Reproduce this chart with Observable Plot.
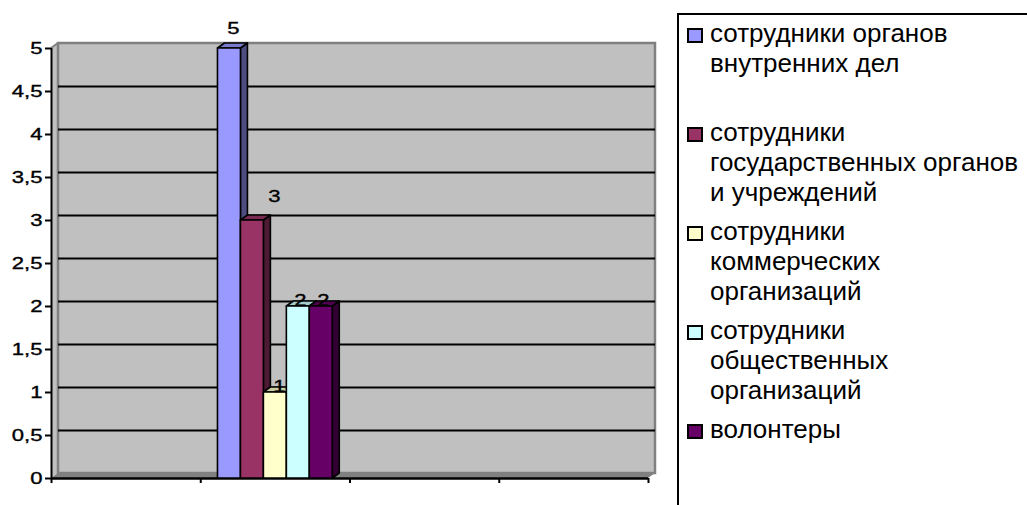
<!DOCTYPE html>
<html>
<head>
<meta charset="utf-8">
<script src="https://cdn.jsdelivr.net/npm/d3@7"></script>
<script src="https://cdn.jsdelivr.net/npm/@observablehq/plot@0.6"></script>
<style>
  html, body { margin: 0; padding: 0; background: #fff; width: 1027px; height: 505px; overflow: hidden; }
  #wrap { position: relative; width: 1027px; height: 505px; }
  #chart { position: absolute; left: 0; top: 0; }
  #chart text { font-family: Arial, "Liberation Sans", sans-serif; font-size: 17px; stroke: #000; stroke-width: 0.35px; }
  #legend {
    position: absolute; left: 677px; top: 13px; width: 420px; height: 560px;
    border-left: 2px solid #000; border-top: 2px solid #000;
    font-family: Arial, "Liberation Sans", sans-serif; font-size: 26px; color: #000;
    padding-top: 3px; box-sizing: border-box;
  }
  .item { position: relative; height: 99px; }
  .sw { position: absolute; left: 8px; top: 10px; width: 16px; height: 15px; border: 2px solid #000; box-sizing: border-box; }
  .lab { margin-left: 31px; line-height: 30px; white-space: nowrap; }
</style>
</head>
<body>
<div id="wrap">
  <div id="chart"></div>
  <div id="legend"></div>
</div>
<script>
// ---- data ----
const categories = ["", "", "", ""];           // four unlabeled category slots
const seriesNames = [
  "сотрудники органов\nвнутренних дел",
  "сотрудники\nгосударственных органов\nи учреждений",
  "сотрудники\nкоммерческих\nорганизаций",
  "сотрудники\nобщественных\nорганизаций",
  "волонтеры"
];
const seriesValues = [
  [null, 5, null, null],
  [null, 3, null, null],
  [null, 1, null, null],
  [null, 2, null, null],
  [null, 2, null, null]
];
const yTicks = [0, 0.5, 1, 1.5, 2, 2.5, 3, 3.5, 4, 4.5, 5];
const frontColors = ["#9999FF", "#993366", "#FFFFCC", "#CCFFFF", "#660066"];

// ---- style ----
const DX = 7, DY = 5;          // 3D depth offset (px)
const gapWidth = 1.5;          // Excel gap width 150%
const labelNudge = [[4, -15], [22, -19], [4, -1], [2, -1], [2, -1]];
const FONT = "Arial, 'Liberation Sans', sans-serif";
const TEXT_STRETCH = 1.3;      // reference text is horizontally stretched
const FS = 17;

function shade(c, k) { const r = d3.rgb(c); return d3.rgb(r.r * k, r.g * k, r.b * k).formatHex(); }

// build bar table
const nS = seriesNames.length;
const w = 1 / (nS + gapWidth);
const bars = [];
seriesValues.forEach((vals, s) => vals.forEach((v, c) => {
  if (v == null) return;
  const x1 = c + (gapWidth / 2 + s) * w;
  bars.push({series: s, cat: c, x1, x2: x1 + w, xm: x1 + w / 2, value: v});
}));

const walls = (index, scales) => {
  const x = scales.x, y = scales.y;
  const xL = x(0), xR = x(categories.length), y0 = y(0), yT = y(d3.max(yTicks));
  const g = d3.create("svg:g");
  g.append("path").attr("d", `M${xL},${y0}L${xL},${yT}L${xL+DX},${yT-DY}L${xL+DX},${y0-DY}Z`).attr("fill", "#c0c0c0");
  g.append("rect").attr("x", xL + DX).attr("y", yT - DY).attr("width", xR - xL).attr("height", y0 - yT)
    .attr("fill", "#c0c0c0").attr("stroke", "#808080").attr("stroke-width", 2.5);
  g.append("path").attr("d", `M${xL},${y0}L${xL+DX},${y0-DY}L${xR+DX},${y0-DY}L${xR},${y0}Z`).attr("fill", "#808080");
  g.append("path").attr("d", `M${xL},${yT}L${xL+DX},${yT-DY}`).attr("stroke", "#808080").attr("stroke-width", 2).attr("fill", "none");
  return g.node();
};

const bars3d = (index, scales) => {
  const x = scales.x, y = scales.y;
  const g = d3.create("svg:g").attr("stroke", "#000").attr("stroke-width", 1.6).attr("stroke-linejoin", "round");
  for (const b of bars) {
    const xa = x(b.x1), xb = x(b.x2), yt = y(b.value), y0 = y(0);
    const col = frontColors[b.series];
    g.append("path").attr("d", `M${xb},${yt}L${xb+DX},${yt-DY}L${xb+DX},${y0-DY}L${xb},${y0}Z`).attr("fill", shade(col, 0.5));
    g.append("path").attr("d", `M${xa},${yt}L${xa+DX},${yt-DY}L${xb+DX},${yt-DY}L${xb},${yt}Z`).attr("fill", shade(col, 0.8));
    g.append("rect").attr("x", xa).attr("y", yt).attr("width", xb - xa).attr("height", y0 - yt).attr("fill", col);
  }
  return g.node();
};

const fmt = d => String(d).replace(".", ",");

const labelMarks = seriesNames.map((_, s) => Plot.text(bars.filter(b => b.series === s), {
  x: "xm", y: "value", text: d => fmt(d.value), dx: labelNudge[s][0], dy: labelNudge[s][1],
  lineAnchor: "bottom", fontSize: FS, fill: "#000"
}));

const chart = Plot.plot({
  width: 670, height: 505,
  marginLeft: 51, marginRight: 22, marginTop: 48, marginBottom: 27,
  style: {fontFamily: FONT, fontSize: FS + "px", background: "transparent", overflow: "visible"},
  x: {type: "linear", domain: [0, categories.length], axis: null, label: null},
  y: {domain: [0, d3.max(yTicks)], axis: null, label: null},
  marks: [
    walls,
    Plot.ruleY(yTicks.filter(t => t > 0 && t < d3.max(yTicks)), {dx: DX, dy: -DY, stroke: "#000", strokeWidth: 2}),
    Plot.axisY(yTicks, {tickFormat: fmt, tickSize: 6, tickPadding: 3, strokeWidth: 2, fontSize: FS, fill: "#000", stroke: "#000", label: null}),
    Plot.axisX(d3.range(categories.length + 1), {tickFormat: () => "", tickSize: 5, strokeWidth: 2, stroke: "#000", label: null}),
    Plot.ruleX([0], {stroke: "#000", strokeWidth: 2}),
    Plot.ruleY([0], {stroke: "#000", strokeWidth: 2.5}),
    bars3d,
    ...labelMarks
  ]
});
// stretch text horizontally about its anchor point, like the reference
d3.select(chart).selectAll("text").each(function() {
  const t = this.getAttribute("transform");
  if (t) this.setAttribute("transform", `${t} scale(${TEXT_STRETCH},1)`);
});
document.getElementById("chart").appendChild(chart);

// legend
const legend = d3.select("#legend");
seriesNames.forEach((name, s) => {
  const it = legend.append("div").attr("class", "item");
  it.append("div").attr("class", "sw").style("background", frontColors[s]);
  it.append("div").attr("class", "lab").html(name.split("\n").join("<br>"));
});
</script>
</body>
</html>
